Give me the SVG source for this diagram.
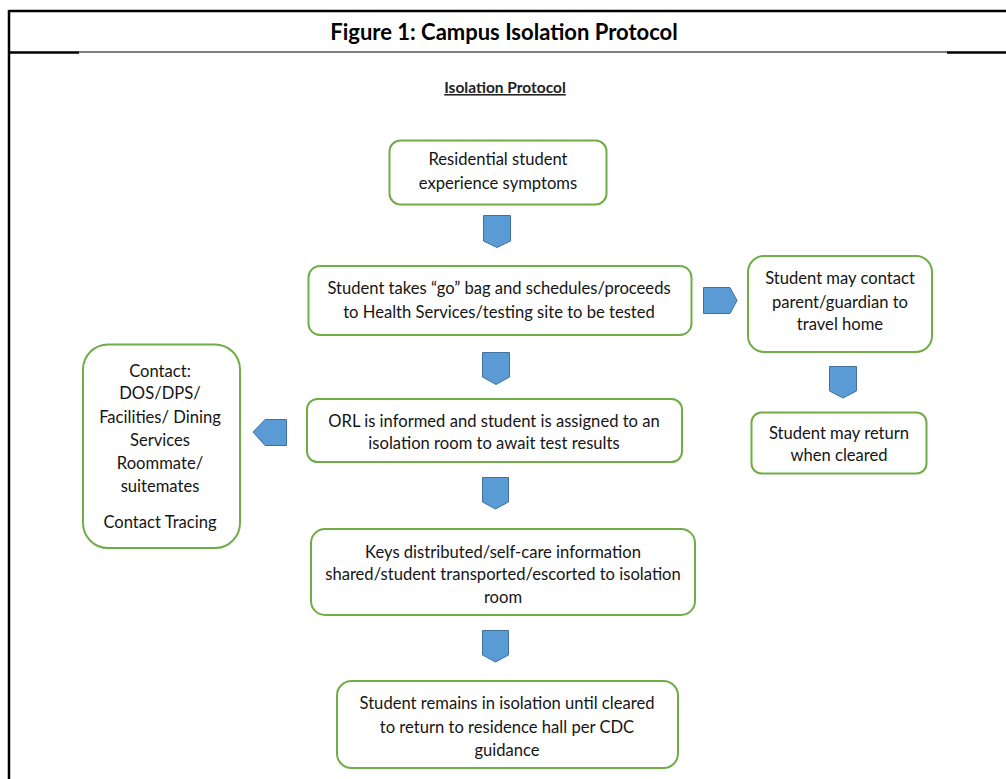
<svg xmlns="http://www.w3.org/2000/svg" width="1006" height="779" viewBox="0 0 1006 779">
<style>
.box{fill:#fff;stroke:#70AD47;stroke-width:2}
.arr{fill:#5B9BD5;stroke:#41719C;stroke-width:1}
.t{font-family:Lato,"Open Sans","Liberation Sans",sans-serif;font-size:16.6px;fill:#151515;text-anchor:middle}
.frame{stroke:#000;fill:none}
</style>
<rect width="1006" height="779" fill="#fff"/>
<g id="frame">
<line class="frame" x1="9" y1="11" x2="1006" y2="11" stroke-width="2.5"/>
<line class="frame" x1="9" y1="10" x2="9" y2="779" stroke-width="2.5"/>
<line class="frame" x1="9" y1="52.5" x2="79" y2="52.5" stroke-width="2.5"/>
<line class="frame" x1="79" y1="52" x2="947" y2="52" stroke-width="1.2"/>
<line class="frame" x1="947" y1="52.5" x2="1006" y2="52.5" stroke-width="2.5"/>
</g>
<g id="title">
<text x="504" y="40" style="font-family:Lato,'Liberation Sans',sans-serif;font-size:22px;font-weight:bold;fill:#000;text-anchor:middle">Figure 1: Campus Isolation Protocol</text>
<text x="505" y="93" text-decoration="underline" style="font-family:Lato,'Liberation Sans',sans-serif;font-size:15.5px;font-weight:bold;fill:#222;text-anchor:middle">Isolation Protocol</text>
</g>
<g id="connectors">
<path class="arr" d="M483.5 215.5H510.5V241L497 247.5L483.5 241Z"/>
<path class="arr" d="M703.5 287.5H730L737 300.5L730 313.5H703.5Z"/>
<path class="arr" d="M829.5 366.5H856.5V391L843 398L829.5 391Z"/>
<path class="arr" d="M482.5 352.5H509.5V377L496 384.5L482.5 377Z"/>
<path class="arr" d="M286.5 419.5H265L253 432L265 445.5H286.5Z"/>
<path class="arr" d="M482.5 477.5H508.5V502L495.5 509L482.5 502Z"/>
<path class="arr" d="M482.5 630.5H508.5V655L495.5 662L482.5 655Z"/>
</g>
<g id="n1">
<rect class="box" x="389.5" y="140.5" width="217" height="64" rx="11"/>
<text class="t" x="498" y="165">Residential student</text>
<text class="t" x="498" y="189">experience symptoms</text>
</g>
<g id="n2">
<rect class="box" x="308.5" y="266" width="383" height="69" rx="11.5"/>
<text class="t" x="499" y="294">Student takes “go” bag and schedules/proceeds</text>
<text class="t" x="499" y="318">to Health Services/testing site to be tested</text>
</g>
<g id="n3">
<rect class="box" x="748" y="256" width="184" height="96" rx="16"/>
<text class="t" x="840" y="284">Student may contact</text>
<text class="t" x="840" y="308">parent/guardian to</text>
<text class="t" x="840" y="330">travel home</text>
</g>
<g id="n4">
<rect class="box" x="751.5" y="412.5" width="175" height="61" rx="10"/>
<text class="t" x="839" y="439">Student may return</text>
<text class="t" x="839" y="461">when cleared</text>
</g>
<g id="n5">
<rect class="box" x="83" y="344.5" width="157" height="203.5" rx="25"/>
<text class="t" x="160" y="377">Contact:</text>
<text class="t" x="160" y="399">DOS/DPS/</text>
<text class="t" x="160" y="423">Facilities/ Dining</text>
<text class="t" x="160" y="446">Services</text>
<text class="t" x="160" y="469">Roommate/</text>
<text class="t" x="160" y="492">suitemates</text>
<text class="t" x="160" y="528">Contact Tracing</text>
</g>
<g id="n6">
<rect class="box" x="307" y="399" width="375" height="63" rx="10.5"/>
<text class="t" x="494" y="427">ORL is informed and student is assigned to an</text>
<text class="t" x="494" y="449">isolation room to await test results</text>
</g>
<g id="n7">
<rect class="box" x="311" y="529" width="384" height="86" rx="14"/>
<text class="t" x="503" y="558">Keys distributed/self-care information</text>
<text class="t" x="503" y="580">shared/student transported/escorted to isolation</text>
<text class="t" x="503" y="603">room</text>
</g>
<g id="n8">
<rect class="box" x="337" y="681" width="341" height="87" rx="14.5"/>
<text class="t" x="507" y="709">Student remains in isolation until cleared</text>
<text class="t" x="507" y="733">to return to residence hall per CDC</text>
<text class="t" x="507" y="756">guidance</text>
</g>
</svg>
